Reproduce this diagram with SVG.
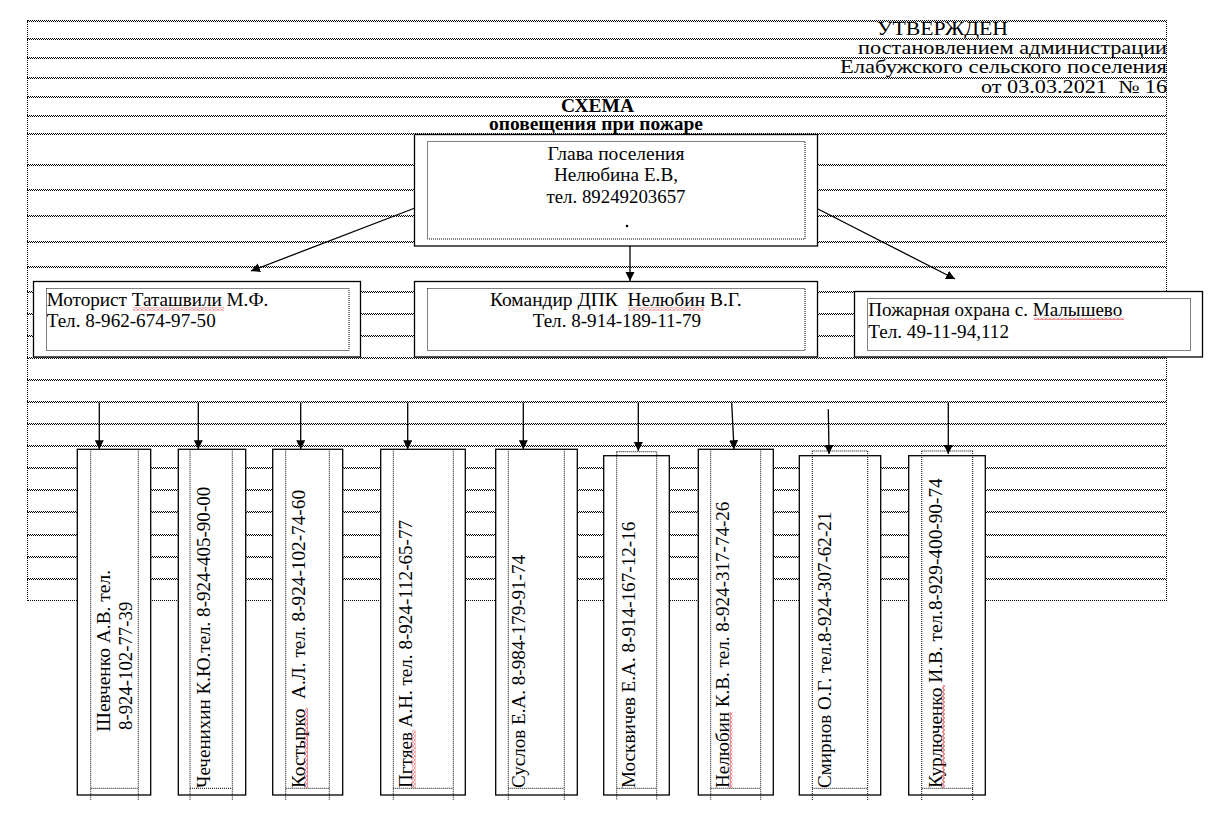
<svg xmlns="http://www.w3.org/2000/svg" width="1211" height="835" viewBox="0 0 1211 835">
<style>
.t{font-family:"Liberation Serif","Times New Roman",serif;fill:#000}
.h{font-size:18px}
.b{font-size:18px;font-weight:bold}
.n{font-size:18px}
.box{fill:#fff;stroke:#000;stroke-width:1.3}
.dot{fill:none;stroke:#000;stroke-width:1;stroke-dasharray:1 1}
.con{stroke:#000;stroke-width:1.3;fill:none;marker-end:url(#ah)}
.rl{fill:url(#chk)}
.wh{fill:url(#waveH)}
.wv{fill:url(#waveV)}
</style>
<defs>
<pattern id="chk" width="2" height="2" patternUnits="userSpaceOnUse"><rect width="1" height="1" fill="#000"/><rect x="1" y="1" width="1" height="1" fill="#000"/></pattern>
<pattern id="waveH" width="4" height="3" patternUnits="userSpaceOnUse"><path d="M0,2.5 L2,0.5 L4,2.5" fill="none" stroke="#e00000" stroke-width="0.9"/></pattern>
<pattern id="waveV" width="3" height="4" patternUnits="userSpaceOnUse"><path d="M0.5,0 L2.5,2 L0.5,4" fill="none" stroke="#e00000" stroke-width="0.9"/></pattern>
<marker id="ah" markerUnits="userSpaceOnUse" markerWidth="10" markerHeight="10" refX="9" refY="4.5" orient="auto"><path d="M0,0 L9,4.5 L0,9 z" fill="#000"/></marker>
</defs>
<rect width="1211" height="835" fill="#fff"/>
<g id="ruled">
<rect class="rl" x="27" y="20" width="1139" height="2"/>
<rect class="rl" x="27" y="38" width="1139" height="2"/>
<rect class="rl" x="27" y="57" width="1139" height="2"/>
<rect class="rl" x="27" y="77" width="1139" height="2"/>
<rect class="rl" x="27" y="96" width="1139" height="2"/>
<rect class="rl" x="27" y="115" width="1139" height="2"/>
<rect class="rl" x="27" y="133" width="1139" height="2"/>
<rect class="rl" x="27" y="164" width="1139" height="2"/>
<rect class="rl" x="27" y="189" width="1139" height="2"/>
<rect class="rl" x="27" y="215" width="1139" height="2"/>
<rect class="rl" x="27" y="241" width="1139" height="2"/>
<rect class="rl" x="27" y="266" width="1139" height="2"/>
<rect class="rl" x="27" y="291" width="1139" height="2"/>
<rect class="rl" x="27" y="313" width="1139" height="2"/>
<rect class="rl" x="27" y="335" width="1139" height="2"/>
<rect class="rl" x="27" y="357" width="1139" height="2"/>
<rect class="rl" x="27" y="379" width="1139" height="2"/>
<rect class="rl" x="27" y="401" width="1139" height="2"/>
<rect class="rl" x="27" y="423" width="1139" height="2"/>
<rect class="rl" x="27" y="445" width="1139" height="2"/>
<rect class="rl" x="27" y="467" width="1139" height="2"/>
<rect class="rl" x="27" y="489" width="1139" height="2"/>
<rect class="rl" x="27" y="511" width="1139" height="2"/>
<rect class="rl" x="27" y="534" width="1139" height="2"/>
<rect class="rl" x="27" y="556" width="1139" height="2"/>
<rect class="rl" x="27" y="578" width="1139" height="2"/>
<rect class="rl" x="27" y="600" width="1139" height="1"/>
<line class="dot" x1="27.5" y1="20" x2="27.5" y2="601"/>
<line class="dot" x1="1166.5" y1="20" x2="1166.5" y2="601"/>
</g>
<g id="header">
<text class="t h" x="877" y="34.5" textLength="131" lengthAdjust="spacingAndGlyphs">УТВЕРЖДЕН</text>
<text class="t h" x="858" y="54" textLength="309" lengthAdjust="spacingAndGlyphs">постановлением администрации</text>
<text class="t h" x="840" y="73" textLength="327" lengthAdjust="spacingAndGlyphs">Елабужского сельского поселения</text>
<text class="t h" x="981" y="92.5" textLength="186" lengthAdjust="spacingAndGlyphs" xml:space="preserve">от 03.03.2021  № 16</text>
</g>
<g id="title">
<text class="t b" x="561" y="112" textLength="73" lengthAdjust="spacingAndGlyphs">СХЕМА</text>
<text class="t b" x="489" y="130" textLength="214" lengthAdjust="spacingAndGlyphs">оповещения при пожаре</text>
</g>
<g id="connectors">
<line class="con" x1="415" y1="208" x2="251" y2="271"/>
<line class="con" x1="630" y1="246" x2="630" y2="281"/>
<line class="con" x1="818" y1="209" x2="955" y2="279"/>
<line class="con" x1="99.3" y1="402.7" x2="99.3" y2="449.3"/>
<line class="con" x1="198.3" y1="402.7" x2="198.3" y2="449.3"/>
<line class="con" x1="300.7" y1="402.7" x2="300.7" y2="449.3"/>
<line class="con" x1="407.7" y1="402.7" x2="407.7" y2="449.3"/>
<line class="con" x1="523.3" y1="402.7" x2="523.3" y2="449.3"/>
<line class="con" x1="638.3" y1="402.7" x2="638.3" y2="451"/>
<line class="con" x1="731.7" y1="402.7" x2="734" y2="449.3"/>
<line class="con" x1="828.3" y1="409.3" x2="829" y2="454"/>
<line class="con" x1="948.3" y1="402.7" x2="948.3" y2="454"/>
</g>
<g id="n-head">
<rect class="box" x="414.5" y="134.5" width="403" height="111.5"/>
<rect class="dot" x="427.5" y="141.5" width="377.5" height="97.5"/>
<text class="t n" x="616" y="159.5" text-anchor="middle" textLength="137" lengthAdjust="spacingAndGlyphs">Глава поселения</text>
<text class="t n" x="616" y="181" text-anchor="middle" textLength="124" lengthAdjust="spacingAndGlyphs">Нелюбина Е.В,</text>
<text class="t n" x="616" y="202.5" text-anchor="middle" textLength="139" lengthAdjust="spacingAndGlyphs">тел. 89249203657</text>
<circle cx="627" cy="226" r="1.3" fill="#000"/>
</g>
<g id="n-motorist">
<rect class="box" x="33.5" y="281.5" width="327" height="75.5"/>
<rect class="dot" x="46.5" y="288.5" width="302.5" height="62"/>
<text class="t n" x="46.7" y="306" textLength="221.6" lengthAdjust="spacingAndGlyphs">Моторист Таташвили М.Ф.</text>
<text class="t n" x="46.7" y="326.7" textLength="169" lengthAdjust="spacingAndGlyphs">Тел. 8-962-674-97-50</text>
<rect class="wh" x="133" y="307.5" width="91" height="3"/>
</g>
<g id="n-commander">
<rect class="box" x="414.5" y="281.5" width="403" height="75.5"/>
<rect class="dot" x="427.5" y="288.5" width="377.5" height="62"/>
<text class="t n" x="490" y="306" textLength="251.7" lengthAdjust="spacingAndGlyphs" xml:space="preserve">Командир ДПК  Нелюбин В.Г.</text>
<text class="t n" x="532.7" y="327" textLength="168.3" lengthAdjust="spacingAndGlyphs">Тел. 8-914-189-11-79</text>
<rect class="wh" x="628" y="307.5" width="76" height="3"/>
</g>
<g id="n-fire">
<rect class="box" x="854.5" y="291.5" width="348" height="65.5"/>
<rect class="dot" x="867.5" y="298.5" width="323" height="52"/>
<text class="t n" x="868.3" y="315.7" textLength="254" lengthAdjust="spacingAndGlyphs">Пожарная охрана с. Малышево</text>
<text class="t n" x="868.3" y="337.7" textLength="140.7" lengthAdjust="spacingAndGlyphs">Тел. 49-11-94,112</text>
<rect class="wh" x="1034" y="317" width="90" height="3"/>
</g>
<g id="n-p1">
<rect class="box" x="77.3" y="449.3" width="73.4" height="345.7"/>
<path class="dot" d="M90.7,449.3 V800 M138.3,449.3 V800 M90.7,788.3 H138.3"/>
<text class="t n" transform="translate(110,731.7) rotate(-90)" textLength="161.7" lengthAdjust="spacingAndGlyphs">Шевченко А.В. тел.</text>
<text class="t n" transform="translate(131.5,730) rotate(-90)" textLength="128.3" lengthAdjust="spacingAndGlyphs">8-924-102-77-39</text>
</g>
<g id="n-p2">
<rect class="box" x="178.3" y="449.3" width="67.4" height="345.7"/>
<path class="dot" d="M190,449.3 V800 M232.3,449.3 V800 M190,788.3 H232.3"/>
<text class="t n" transform="translate(209.5,788) rotate(-90)" textLength="301.3" lengthAdjust="spacingAndGlyphs">Чеченихин К.Ю.тел. 8-924-405-90-00</text>
</g>
<g id="n-p3">
<rect class="box" x="272.7" y="449.3" width="70" height="345.7"/>
<path class="dot" d="M285.7,449.3 V800 M329.3,449.3 V800 M285.7,788.3 H329.3"/>
<text class="t n" transform="translate(305,788) rotate(-90)" textLength="298" lengthAdjust="spacingAndGlyphs" xml:space="preserve">Костырко  А.Л. тел. 8-924-102-74-60</text>
<rect class="wv" x="305" y="708" width="3" height="80"/>
</g>
<g id="n-p4">
<rect class="box" x="380.7" y="449.3" width="84.6" height="345.7"/>
<path class="dot" d="M393.3,449.3 V800 M453.3,449.3 V800 M393.3,788.3 H453.3"/>
<text class="t n" transform="translate(412,788) rotate(-90)" textLength="268" lengthAdjust="spacingAndGlyphs">Пгтяев А.Н. тел. 8-924-112-65-77</text>
<rect class="wv" x="412.5" y="730" width="3" height="58"/>
</g>
<g id="n-p5">
<rect class="box" x="495.7" y="449.3" width="81.6" height="345.7"/>
<path class="dot" d="M508.3,449.3 V800 M564.3,449.3 V800 M508.3,788.3 H564.3"/>
<text class="t n" transform="translate(524.5,788) rotate(-90)" textLength="233" lengthAdjust="spacingAndGlyphs">Суслов Е.А. 8-984-179-91-74</text>
</g>
<g id="n-p6">
<rect class="box" x="603.7" y="455.7" width="65.6" height="339.3"/>
<path class="dot" d="M616.7,451.7 V800 M656.7,451.7 V800 M616.7,451.7 H656.7 M616.7,788.3 H656.7"/>
<text class="t n" transform="translate(635,788) rotate(-90)" textLength="266.3" lengthAdjust="spacingAndGlyphs">Москвичев Е.А. 8-914-167-12-16</text>
</g>
<g id="n-p7">
<rect class="box" x="698.3" y="449.3" width="75" height="345.7"/>
<path class="dot" d="M710.7,449.3 V800 M760.7,449.3 V800 M710.7,788.3 H760.7"/>
<text class="t n" transform="translate(729,788) rotate(-90)" textLength="286.3" lengthAdjust="spacingAndGlyphs">Нелюбин К.В. тел. 8-924-317-74-26</text>
<rect class="wv" x="729.5" y="712" width="3" height="76"/>
</g>
<g id="n-p8">
<rect class="box" x="799.3" y="455.7" width="81.4" height="339.3"/>
<path class="dot" d="M812.3,451 V800 M867.7,451 V800 M812.3,451 H867.7 M812.3,788.3 H867.7"/>
<text class="t n" transform="translate(830.5,788) rotate(-90)" textLength="276.3" lengthAdjust="spacingAndGlyphs">Смирнов О.Г. тел.8-924-307-62-21</text>
</g>
<g id="n-p9">
<rect class="box" x="908.7" y="455.7" width="76.6" height="339.3"/>
<path class="dot" d="M921.7,451 V800 M972.7,451 V800 M921.7,451 H972.7 M921.7,788.3 H972.7"/>
<text class="t n" transform="translate(942,788) rotate(-90)" textLength="309.7" lengthAdjust="spacingAndGlyphs">Курлюченко И.В. тел.8-929-400-90-74</text>
<rect class="wv" x="942" y="685" width="3" height="103"/>
</g>
</svg>
